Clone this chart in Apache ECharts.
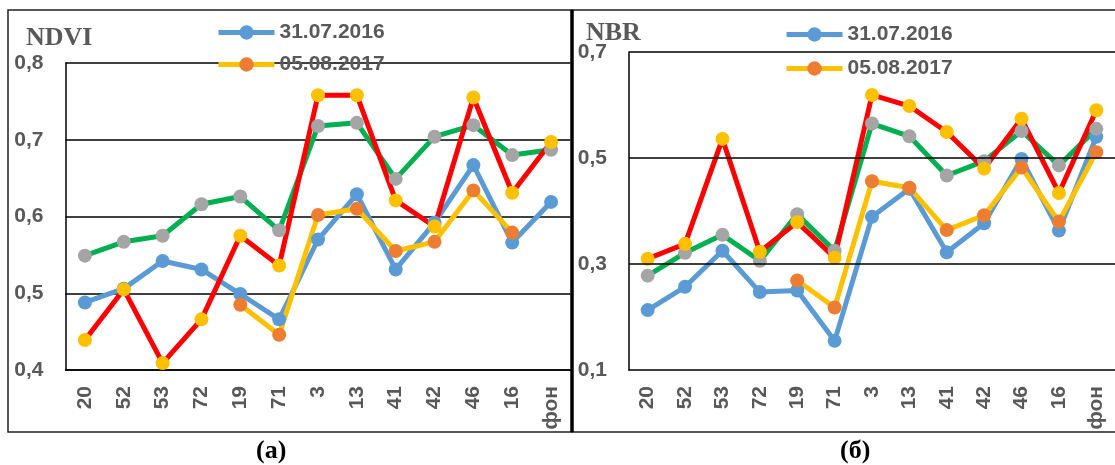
<!DOCTYPE html>
<html>
<head>
<meta charset="utf-8">
<script src="https://cdn.jsdelivr.net/npm/echarts@6/dist/echarts.min.js"></script>
<style>
html,body{margin:0;padding:0;background:#fff;}
#c{width:1115px;height:465px;}
</style>
</head>
<body>
<div id="c"></div>
<script>
const categories = ['20','52','53','72','19','71','3','13','41','42','46','16','фон'];
const legendNames = ['31.07.2016','05.08.2017'];
// NDVI panel (a)
const ndvi2016 = [0.488,0.506,0.542,0.531,0.499,0.466,0.570,0.629,0.531,0.592,0.667,0.566,0.619];
const ndvi2017 = [null,null,null,null,0.485,0.446,0.602,0.610,0.555,0.567,0.634,0.579,null];
const ndviGreen = [0.549,0.567,0.575,0.616,0.626,0.582,0.718,0.722,0.649,0.704,0.719,0.680,0.687];
const ndviRed = [0.439,0.505,0.409,0.466,0.575,0.536,0.758,0.758,0.621,0.587,0.755,0.631,0.697];
// NBR panel (б)
const nbr2016 = [0.213,0.257,0.325,0.247,0.250,0.155,0.389,0.442,0.322,0.377,0.498,0.363,0.540];
const nbr2017 = [null,null,null,null,0.269,0.218,0.456,0.444,0.364,0.392,0.482,0.380,0.511];
const nbrGreen = [0.278,0.321,0.355,0.306,0.394,0.325,0.565,0.541,0.467,0.494,0.551,0.486,0.555];
const nbrRed = [0.310,0.338,0.536,0.323,0.379,0.312,0.619,0.598,0.549,0.480,0.574,0.434,0.590];
const ndviTicks = [0.4,0.5,0.6,0.7,0.8];
const nbrTicks = [0.1,0.3,0.5,0.7];

const C = {blue:'#5B9BD5', orange:'#ED7D31', yellow:'#FFC000', gray:'#A5A5A5', green:'#00B050', red:'#FF0000'};
const txt = '#595959';
const sans = 'Liberation Sans';
const fmt = v => v.toFixed(1).replace('.', ',');

function mkSeries(name, data, lineColor, markerColor, idx){
  return {
    type:'line', name:name, data:data, xAxisIndex:idx, yAxisIndex:idx,
    symbol:'circle', symbolSize:14, showSymbol:true,
    lineStyle:{color:lineColor, width:5},
    itemStyle:{color:markerColor},
    emphasis:{disabled:true}, animation:false, z:3
  };
}
function mkLegend(name, left, top){
  return {
    data:[name], left:left, top:top, padding:0, itemWidth:56, itemHeight:18, itemGap:0,
    lineStyle:{width:5},
    textStyle:{fontFamily:sans, fontWeight:'bold', fontSize:21, color:txt, lineHeight:18},
    selectedMode:false
  };
}
function xAx(idx){
  return {
    type:'category', gridIndex:idx, data:categories, boundaryGap:true,
    axisLine:{lineStyle:{color:'#000', width:1.5}}, axisTick:{show:false},
    axisLabel:{rotate:90, margin:16, fontFamily:sans, fontWeight:'bold', fontSize:21, color:txt, interval:0},
    splitLine:{show:false}
  };
}

const chart = echarts.init(document.getElementById('c'), null, {renderer:'canvas'});
chart.setOption({
  backgroundColor:'#fff',
  animation:false,
  grid:[
    {left:65.5, top:63, width:505, height:307},
    {left:629, top:52, width:497, height:318}
  ],
  xAxis:[xAx(0), xAx(1)],
  yAxis:[
    {type:'value', gridIndex:0, min:ndviTicks[0], max:ndviTicks[ndviTicks.length-1], interval:0.1,
     axisLine:{show:true, lineStyle:{color:'#000', width:1.5}}, axisTick:{show:false},
     axisLabel:{margin:22, fontFamily:sans, fontWeight:'bold', fontSize:21, color:txt, formatter:fmt},
     splitLine:{show:true, lineStyle:{color:'#000', width:1.5}}},
    {type:'value', gridIndex:1, min:nbrTicks[0], max:nbrTicks[nbrTicks.length-1], interval:0.1,
     axisLine:{show:true, lineStyle:{color:'#000', width:1.5}}, axisTick:{show:false},
     axisLabel:{margin:22, fontFamily:sans, fontWeight:'bold', fontSize:21, color:txt,
       formatter:v => nbrTicks.some(t => Math.abs(t - v) < 1e-6) ? fmt(v) : ''},
     splitLine:{show:false}}
  ],
  legend:[
    mkLegend(legendNames[0], 216, 22),
    mkLegend(legendNames[1], 216, 54),
    mkLegend(legendNames[0], 784, 24),
    mkLegend(legendNames[1], 784, 58)
  ],
  graphic:[
    {type:'rect', shape:{x:8, y:10, width:564, height:422}, style:{fill:null, stroke:'#222', lineWidth:1.5}, z:10},
    {type:'rect', shape:{x:572, y:10, width:600, height:422}, style:{fill:null, stroke:'#222', lineWidth:1.5}, z:10},
    {type:'line', shape:{x1:572, y1:10, x2:572, y2:432}, style:{stroke:'#000', lineWidth:3.5}, z:10},
    {type:'text', left:26, top:25, style:{text:'NDVI', font:'bold 26px "Liberation Serif"', fill:txt}},
    {type:'text', left:586, top:20, style:{text:'NBR', font:'bold 26px "Liberation Serif"', fill:txt}},
    {type:'text', left:256, top:438, style:{text:'(а)', font:'bold 26px "Liberation Serif"', fill:'#000'}},
    {type:'text', left:840, top:438, style:{text:'(б)', font:'bold 26px "Liberation Serif"', fill:'#000'}}
  ],
  series:[
    {type:'line', name:'gridlines', xAxisIndex:1, yAxisIndex:1, data:[], z:1, silent:true,
     markLine:{silent:true, symbol:['none','none'], label:{show:false}, animation:false,
       lineStyle:{color:'#000', width:1.5, type:'solid'},
       data:nbrTicks.slice(1).map(t => ({yAxis:t}))}},
    mkSeries(legendNames[0], ndvi2016, C.blue, C.blue, 0),
    mkSeries(legendNames[1], ndvi2017, C.yellow, C.orange, 0),
    mkSeries('s3', ndviGreen, C.green, C.gray, 0),
    mkSeries('s4', ndviRed, C.red, C.yellow, 0),
    mkSeries(legendNames[0], nbr2016, C.blue, C.blue, 1),
    mkSeries(legendNames[1], nbr2017, C.yellow, C.orange, 1),
    mkSeries('s3', nbrGreen, C.green, C.gray, 1),
    mkSeries('s4', nbrRed, C.red, C.yellow, 1)
  ]
});
</script>
</body>
</html>
